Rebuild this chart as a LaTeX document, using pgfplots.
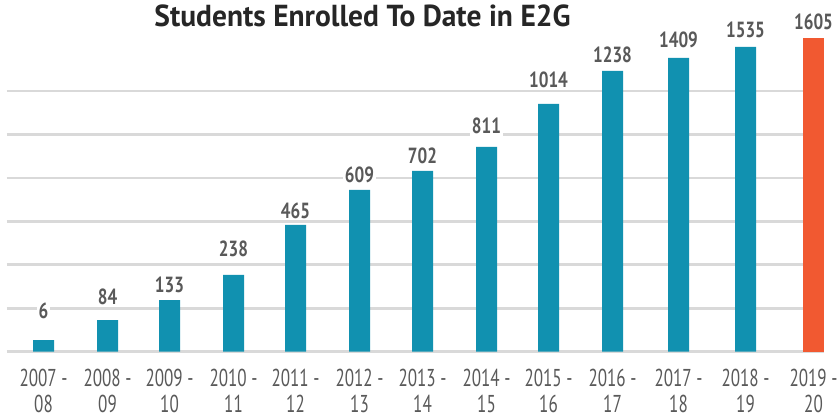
\documentclass[border=0pt]{standalone}
\usepackage{pgfplots}
\pgfplotsset{compat=1.18}
\usepackage{pgfplotstable}
\usepackage{fontspec}
\setmainfont{PT Sans}[FakeStretch=0.7]
\newfontfamily\valfont{PT Sans}[FakeStretch=0.78]
\newfontfamily\titlefont{PT Sans}[FakeStretch=0.97]
\definecolor{teal}{RGB}{17,145,176}
\definecolor{orng}{RGB}{241,89,49}
\definecolor{gridc}{RGB}{217,217,217}
\definecolor{labc}{RGB}{89,89,89}
\definecolor{titc}{RGB}{38,38,38}

% pos = bar centre, h = drawn bar height, lab = label baseline, val = enrolled students
\pgfplotstableread{
pos   h     lab    val
43.5  11.7  33.7   6
107.5 31.7  47.7   84
169.5 51.7  59.7   133
233.5 76.7  95.0   238
295.5 126.7 133.4  465
359.5 161.7 169.0  609
422.5 180.7 188.4  702
486.5 204.7 217.7  811
548.5 247.7 264.4  1014
612.5 280.7 289.4  1238
678.5 293.7 304.0  1409
745.5 304.7 314.4  1535
813.5 314.0 321.7  1605
}\data

\begin{document}
\begin{tikzpicture}
\path[use as bounding box] (-7bp,-67.3bp) rectangle (833bp,351.7bp);
\begin{axis}[
  scale only axis, width=817bp, height=351.7bp,
  xmin=7, xmax=824, ymin=0, ymax=351.7,
  axis line style={draw=none},
  major tick length=0pt,
  ytick={0,43.45,86.9,130.35,173.8,217.25,260.7}, yticklabels={},
  ymajorgrids, grid style={draw=gridc, line width=2.6bp},
  xtick={43.5,107.5,169.5,233.5,295.5,359.5,422.5,486.5,548.5,612.5,678.5,745.5,813.5},
  xticklabels={{2007 -\\08},{2008 -\\09},{2009 -\\10},{2010 -\\11},{2011 -\\12},{2012 -\\13},{2013 -\\14},{2014 -\\15},{2015 -\\16},{2016 -\\17},{2017 -\\18},{2018 -\\19},{2019 -\\20}},
  x tick label style={align=center, font=\fontsize{24.5}{26}\selectfont, text=labc, anchor=north, yshift=-14bp},
  clip=false,
]
\addplot[ybar, bar width=21, fill=teal, draw=none, skip coords between index={12}{13}] table[x=pos, y=h] {\data};
\addplot[ybar, bar width=21, fill=orng, draw=none, skip coords between index={0}{12}] table[x=pos, y=h] {\data};
\addplot[draw=none, mark=none, nodes near coords, point meta=explicit symbolic,
  every node near coord/.style={anchor=base, font=\valfont\bfseries\fontsize{22}{22}\selectfont, text=labc, fill=white, inner sep=1.5bp}]
  table[x=pos, y=lab, meta=val] {\data};
\node[anchor=base, font=\titlefont\bfseries\fontsize{30.5}{30}\selectfont, text=titc] at (axis cs:362.5,325.2) {Students Enrolled To Date in E2G};
\end{axis}
\end{tikzpicture}
\end{document}
